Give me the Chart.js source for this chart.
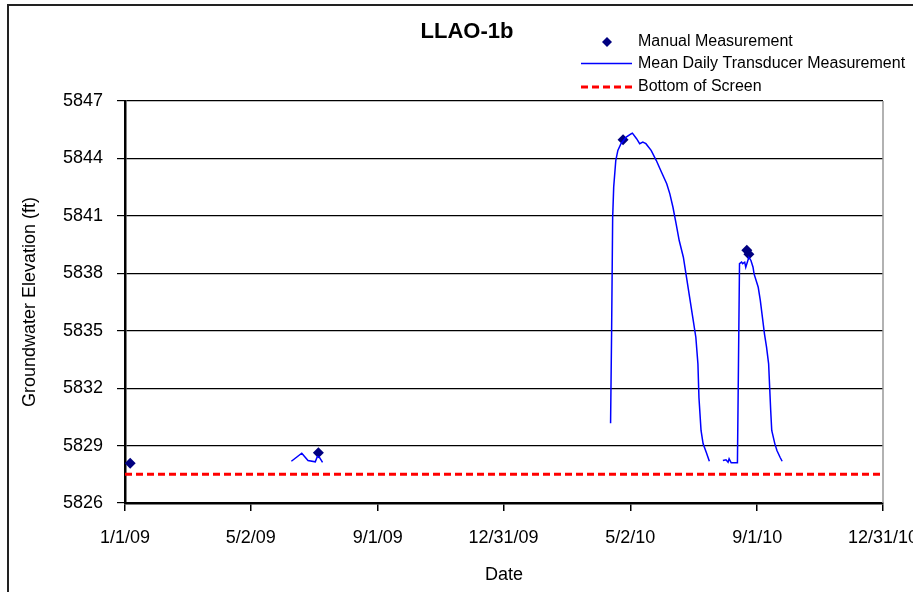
<!DOCTYPE html>
<html>
<head>
<meta charset="utf-8">
<title>LLAO-1b</title>
<script src="https://cdn.jsdelivr.net/npm/chart.js@4"></script>
<style>
  html, body { margin: 0; padding: 0; background: #fff; }
  canvas { display: block; }
</style>
</head>
<body>
<canvas id="llao-chart" width="913" height="592"></canvas>
<script>
// x values are days since 1/1/09
const tickLabels = ['1/1/09', '5/2/09', '9/1/09', '12/31/09', '5/2/10', '9/1/10', '12/31/10'];
const yTicks = [5826, 5829, 5832, 5835, 5838, 5841, 5844, 5847];

const manualDays = [5, 186, 479, 598, 600];
const manualElev = [5828.08, 5828.62, 5844.98, 5839.2, 5839.0];

const transA_days = [160, 170, 176, 183, 185, 187, 190];
const transA_elev = [5828.18, 5828.6, 5828.22, 5828.15, 5828.43, 5828.39, 5828.12];

const transB_days = [467, 468, 469, 470, 472, 474, 477, 482, 487, 488, 492, 495, 498, 501, 506, 511, 516, 521, 524, 527, 530, 533, 537, 540, 543, 546, 549, 551, 552, 554, 556, 559, 562];
const transB_elev = [5830.17, 5835.0, 5840.9, 5842.5, 5843.89, 5844.42, 5844.77, 5845.11, 5845.29, 5845.32, 5845.03, 5844.77, 5844.85, 5844.77, 5844.42, 5843.89, 5843.28, 5842.68, 5842.15, 5841.45, 5840.59, 5839.71, 5838.84, 5837.8, 5836.75, 5835.71, 5834.66, 5833.27, 5831.5, 5829.79, 5829.09, 5828.65, 5828.18];

const transC_days = [575, 578, 580, 581, 583, 589, 590, 591, 593, 594, 596, 597, 600, 602, 604, 605, 609, 611, 613, 615, 617, 619, 620, 621, 622, 625, 627, 630, 632];
const transC_elev = [5828.22, 5828.26, 5828.13, 5828.31, 5828.1, 5828.1, 5833.27, 5838.5, 5838.58, 5838.5, 5838.58, 5838.32, 5838.84, 5838.67, 5838.32, 5837.97, 5837.27, 5836.58, 5835.71, 5834.84, 5834.14, 5833.27, 5832.05, 5830.83, 5829.79, 5829.09, 5828.74, 5828.39, 5828.18];

const screenBottom = 5827.5;

function dayOf(label) {
    const p = label.split('/');
    const t = Date.UTC(2000 + Number(p[2]), Number(p[0]) - 1, Number(p[1]));
    return Math.round((t - Date.UTC(2009, 0, 1)) / 86400000);
}
const tickDays = tickLabels.map(dayOf);

function pts(days, vals) {
    return days.map((d, i) => ({ x: d, y: vals[i] }));
}

const lineStyle = {
    type: 'line',
    borderColor: '#0000FF',
    borderWidth: 1.5,
    pointRadius: 0,
    fill: false,
    tension: 0
};

// title, legend and frame drawn like the Excel original
const extras = {
    id: 'extras',
    afterDraw(chart) {
        const ctx = chart.ctx;
        const a = chart.chartArea;
        ctx.save();
        // outer frame (left and top only, the picture is cut)
        ctx.strokeStyle = '#222';
        ctx.lineWidth = 2;
        ctx.beginPath();
        ctx.moveTo(8, 600);
        ctx.lineTo(8, 5);
        ctx.lineTo(920, 5);
        ctx.stroke();
        // plot area right border
        ctx.strokeStyle = '#999';
        ctx.lineWidth = 1.5;
        ctx.beginPath();
        ctx.moveTo(a.right, a.top);
        ctx.lineTo(a.right, a.bottom);
        ctx.stroke();

        ctx.fillStyle = '#000';
        ctx.font = "bold 22px 'Liberation Sans', Arial, sans-serif";
        ctx.textAlign = 'center';
        ctx.textBaseline = 'middle';
        ctx.fillText('LLAO-1b', 467, 32);

        ctx.font = "16px 'Liberation Sans', Arial, sans-serif";
        ctx.textAlign = 'left';
        ctx.fillText('Manual Measurement', 638, 42);
        ctx.fillText('Mean Daily Transducer Measurement', 638, 64);
        ctx.fillText('Bottom of Screen', 638, 87);

        ctx.fillStyle = '#000080';
        ctx.beginPath();
        ctx.moveTo(607, 37);
        ctx.lineTo(612, 42);
        ctx.lineTo(607, 47);
        ctx.lineTo(602, 42);
        ctx.closePath();
        ctx.fill();

        ctx.strokeStyle = '#0000FF';
        ctx.lineWidth = 1.5;
        ctx.beginPath();
        ctx.moveTo(581, 63.5);
        ctx.lineTo(632, 63.5);
        ctx.stroke();

        ctx.strokeStyle = '#FF0000';
        ctx.lineWidth = 3;
        ctx.setLineDash([7, 4]);
        ctx.beginPath();
        ctx.moveTo(581, 87);
        ctx.lineTo(632, 87);
        ctx.stroke();
        ctx.restore();
    }
};

Chart.defaults.font.family = "'Liberation Sans', Arial, sans-serif";
Chart.defaults.color = '#000';

const ctx = document.getElementById('llao-chart').getContext('2d');
const llaoChart = new Chart(ctx, {
    type: 'line',
    data: {
        datasets: [
            {
                label: 'Bottom of Screen',
                data: [{ x: tickDays[0], y: screenBottom }, { x: tickDays[tickDays.length - 1], y: screenBottom }],
                borderColor: '#FF0000',
                borderWidth: 3,
                borderDash: [7, 4],
                pointRadius: 0,
                fill: false
            },
            Object.assign({ label: 'Mean Daily Transducer Measurement', data: pts(transA_days, transA_elev) }, lineStyle),
            Object.assign({ label: 'transducer b', data: pts(transB_days, transB_elev) }, lineStyle),
            Object.assign({ label: 'transducer c', data: pts(transC_days, transC_elev) }, lineStyle),
            {
                type: 'scatter',
                label: 'Manual Measurement',
                data: pts(manualDays, manualElev),
                pointStyle: 'rectRot',
                pointRadius: 5.5,
                backgroundColor: '#000080',
                borderColor: '#000080',
                borderWidth: 0,
                showLine: false
            }
        ]
    },
    options: {
        responsive: false,
        animation: false,
        layout: {
            padding: { top: 101, right: 30, left: 0, bottom: 0 }
        },
        plugins: {
            legend: { display: false },
            title: { display: false },
            tooltip: { enabled: false }
        },
        scales: {
            x: {
                type: 'linear',
                min: tickDays[0],
                max: tickDays[tickDays.length - 1],
                afterBuildTicks: function(scale) {
                    scale.ticks = tickDays.map(d => ({ value: d }));
                },
                afterFit: function(scale) {
                    scale.height = 89;
                    // let the last label run off the edge, as in the original
                    scale.paddingLeft = 0;
                    scale.paddingRight = 0;
                },
                ticks: {
                    autoSkip: false,
                    maxRotation: 0,
                    padding: 16,
                    font: { size: 18 },
                    callback: function(value) {
                        const i = tickDays.indexOf(value);
                        return i >= 0 ? tickLabels[i] : '';
                    }
                },
                grid: {
                    drawOnChartArea: false,
                    drawTicks: true,
                    tickLength: 8,
                    color: '#000',
                    lineWidth: 1.5
                },
                border: { color: '#000', width: 2.5 },
                title: {
                    display: true,
                    text: 'Date',
                    font: { size: 18 },
                    padding: { top: 0, bottom: 6 }
                }
            },
            y: {
                min: yTicks[0],
                max: yTicks[yTicks.length - 1],
                afterBuildTicks: function(scale) {
                    scale.ticks = yTicks.map(v => ({ value: v }));
                },
                afterFit: function(scale) {
                    scale.width = 125;
                },
                ticks: {
                    padding: 14,
                    font: { size: 18 },
                    callback: v => String(v)
                },
                grid: {
                    color: '#000',
                    lineWidth: 1.2,
                    tickLength: 8
                },
                border: { color: '#000', width: 2.5 },
                title: {
                    display: true,
                    text: 'Groundwater Elevation (ft)',
                    font: { size: 18 },
                    padding: { top: 19, bottom: 0 }
                }
            }
        }
    },
    plugins: [extras]
});
</script>
</body>
</html>
